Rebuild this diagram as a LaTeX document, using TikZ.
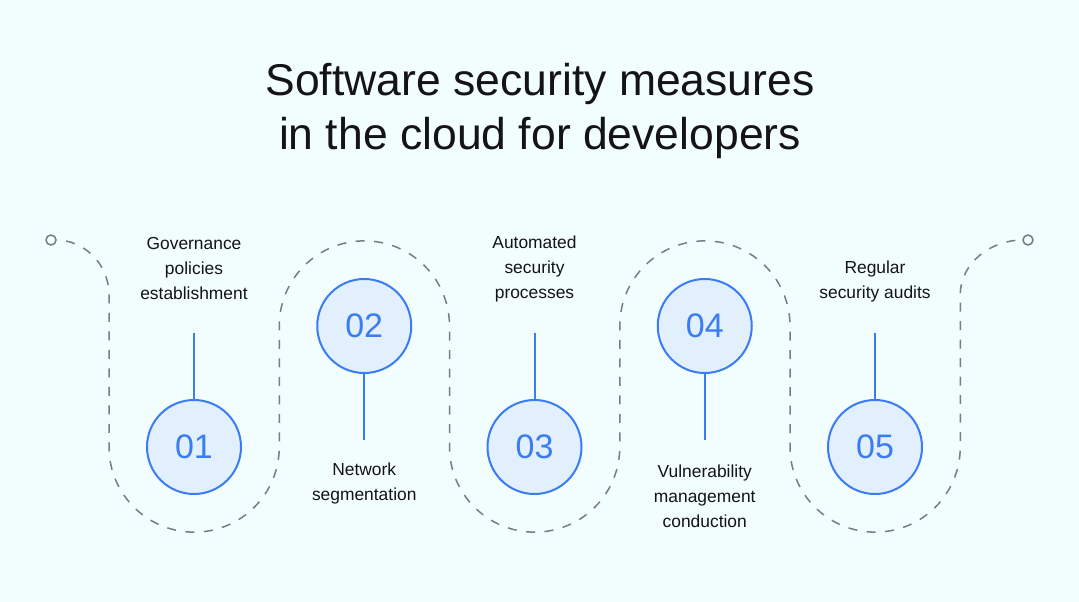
\documentclass[tikz,border=0pt]{standalone}
\usepackage{fontspec}
\setmainfont{Liberation Sans}
\definecolor{bg}{HTML}{F2FDFD}
\definecolor{blueline}{HTML}{3A7CF3}
\definecolor{bluefill}{HTML}{E2F0FD}
\definecolor{dashgray}{HTML}{767C88}
\definecolor{ink}{HTML}{141414}
\begin{document}
\begin{tikzpicture}[x=1pt,y=-1pt,
  num/.style={circle,draw=blueline,line width=2pt,fill=bluefill,minimum size=94pt,inner sep=0pt,text=blueline,font=\fontsize{34}{34}\selectfont},
  lbl/.style={align=center,text=ink,font=\fontsize{17.4}{25}\selectfont},
  stem/.style={draw=blueline,line width=2pt},
  dashpath/.style={draw=dashgray,line width=1.5pt,dash pattern=on 9pt off 9.5pt,dash phase=9pt},
  endc/.style={circle,draw=dashgray,line width=1.5pt,fill=bg,minimum size=10pt,inner sep=0pt}]
\fill[bg] (0,0) rectangle (1079,602);
\useasboundingbox (0,0) rectangle (1079,602);
\node[align=center,text=ink,font=\fontsize{44.5}{54}\selectfont] (title) at (540,111) {Software security measures\\in the cloud for developers};
% end circles
\node[endc] (e1) at (51,240) {};
\node[endc] (e2) at (1028,240) {};
% dashed path
\draw[dashpath] (e1.east) .. controls (82,240) and (109,262) .. (109,295) -- (109,447)
  arc[start angle=180,end angle=0,radius=85.125] -- (279.25,326)
  arc[start angle=180,end angle=360,radius=85.125] -- (449.5,447)
  arc[start angle=180,end angle=0,radius=85.125] -- (619.75,326)
  arc[start angle=180,end angle=360,radius=85.125] -- (790,447)
  arc[start angle=180,end angle=0,radius=85.125] -- (960.25,295)
  .. controls (960.25,262) and (992,240) .. (e2.west);
% circles
\node[num] (c1) at (194,447) {01};
\node[num] (c2) at (364.25,326) {02};
\node[num] (c3) at (534.5,447) {03};
\node[num] (c4) at (704.75,326) {04};
\node[num] (c5) at (875,447) {05};
% stems
\coordinate (s1) at (194,333);
\coordinate (s2) at (364.25,440);
\coordinate (s3) at (534.5,333);
\coordinate (s4) at (704.75,440);
\coordinate (s5) at (875,333);
\draw[stem] (s1) -- (c1.north);
\draw[stem] (c2.south) -- (s2);
\draw[stem] (s3) -- (c3.north);
\draw[stem] (c4.south) -- (s4);
\draw[stem] (s5) -- (c5.north);
% labels
\node[lbl] (l1) at (194,269) {Governance\\policies\\establishment};
\node[lbl] (l2) at (364.25,483.5) {Network\\segmentation};
\node[lbl] (l3) at (534.5,269) {Automated\\security\\processes};
\node[lbl] (l4) at (704.75,496) {Vulnerability\\management\\conduction};
\node[lbl] (l5) at (875,281.5) {Regular\\security audits};
\end{tikzpicture}
\end{document}
